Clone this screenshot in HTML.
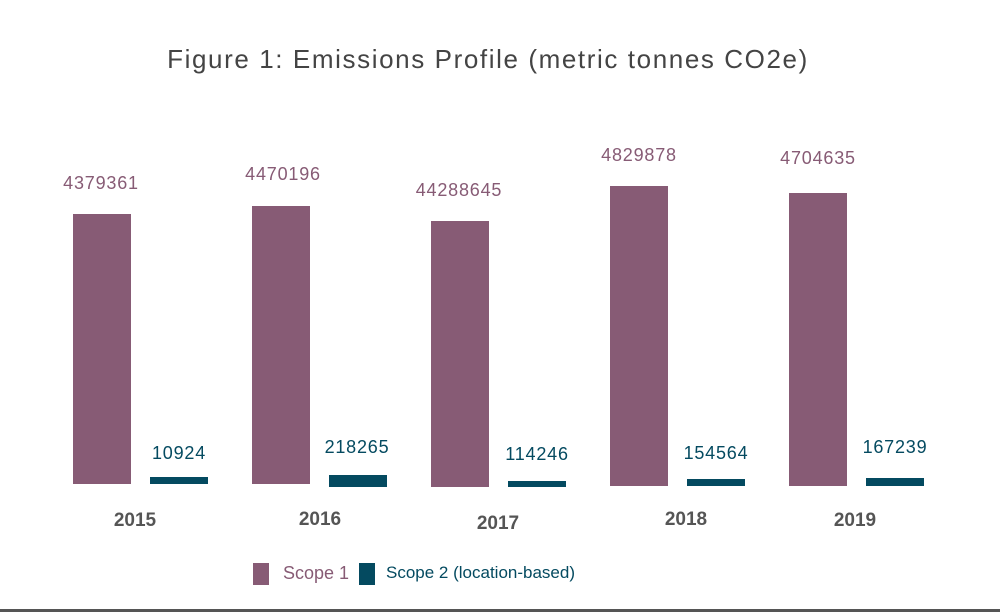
<!DOCTYPE html>
<html><head><style>
body{margin:0;width:1000px;height:612px;background:#fff;position:relative;overflow:hidden;font-family:"Liberation Sans",sans-serif}
div{position:absolute}
.p{background:#875b75}.n{background:#044a60}
.t{transform:translateX(-50%);white-space:nowrap;font-size:18px;letter-spacing:0.8px}
.tp{color:#875b75}.tn{color:#044a60}
.y{color:#555;font-weight:bold;font-size:19px;transform:translateX(-50%)}
</style></head><body>
<div style="left:0;width:976px;top:44px;text-align:center;font-size:26px;letter-spacing:1.6px;color:#444;white-space:nowrap">Figure 1: Emissions Profile (metric tonnes CO2e)</div>

<div class="p" style="left:73px;top:214px;width:58px;height:270px"></div>
<div class="n" style="left:150px;top:477px;width:58px;height:7px"></div>
<div class="p" style="left:252px;top:206px;width:58px;height:278px"></div>
<div class="n" style="left:329px;top:475px;width:58px;height:12px"></div>
<div class="p" style="left:431px;top:221px;width:58px;height:266px"></div>
<div class="n" style="left:508px;top:481px;width:58px;height:6px"></div>
<div class="p" style="left:610px;top:186px;width:58px;height:300px"></div>
<div class="n" style="left:687px;top:479px;width:58px;height:7px"></div>
<div class="p" style="left:789px;top:193px;width:58px;height:293px"></div>
<div class="n" style="left:866px;top:478px;width:58px;height:8px"></div>

<div class="t tp" style="left:101px;top:173px">4379361</div>
<div class="t tp" style="left:283px;top:164px">4470196</div>
<div class="t tp" style="left:459px;top:180px">44288645</div>
<div class="t tp" style="left:639px;top:145px">4829878</div>
<div class="t tp" style="left:818px;top:148px">4704635</div>

<div class="t tn" style="left:179px;top:443px">10924</div>
<div class="t tn" style="left:357px;top:437px">218265</div>
<div class="t tn" style="left:537px;top:444px">114246</div>
<div class="t tn" style="left:716px;top:443px">154564</div>
<div class="t tn" style="left:895px;top:437px">167239</div>

<div class="y" style="left:135px;top:510px">2015</div>
<div class="y" style="left:320px;top:509px">2016</div>
<div class="y" style="left:498px;top:513px">2017</div>
<div class="y" style="left:686px;top:509px">2018</div>
<div class="y" style="left:855px;top:510px">2019</div>

<div class="p" style="left:253px;top:563px;width:16px;height:22px"></div>
<div style="left:283px;top:563px;font-size:18px;color:#875b75;white-space:nowrap">Scope 1</div>
<div class="n" style="left:359px;top:563px;width:16px;height:22px"></div>
<div style="left:386px;top:563px;font-size:17px;color:#044a60;white-space:nowrap">Scope 2 (location-based)</div>

<div style="left:0;top:609px;width:1000px;height:3px;background:#555"></div>
</body></html>
